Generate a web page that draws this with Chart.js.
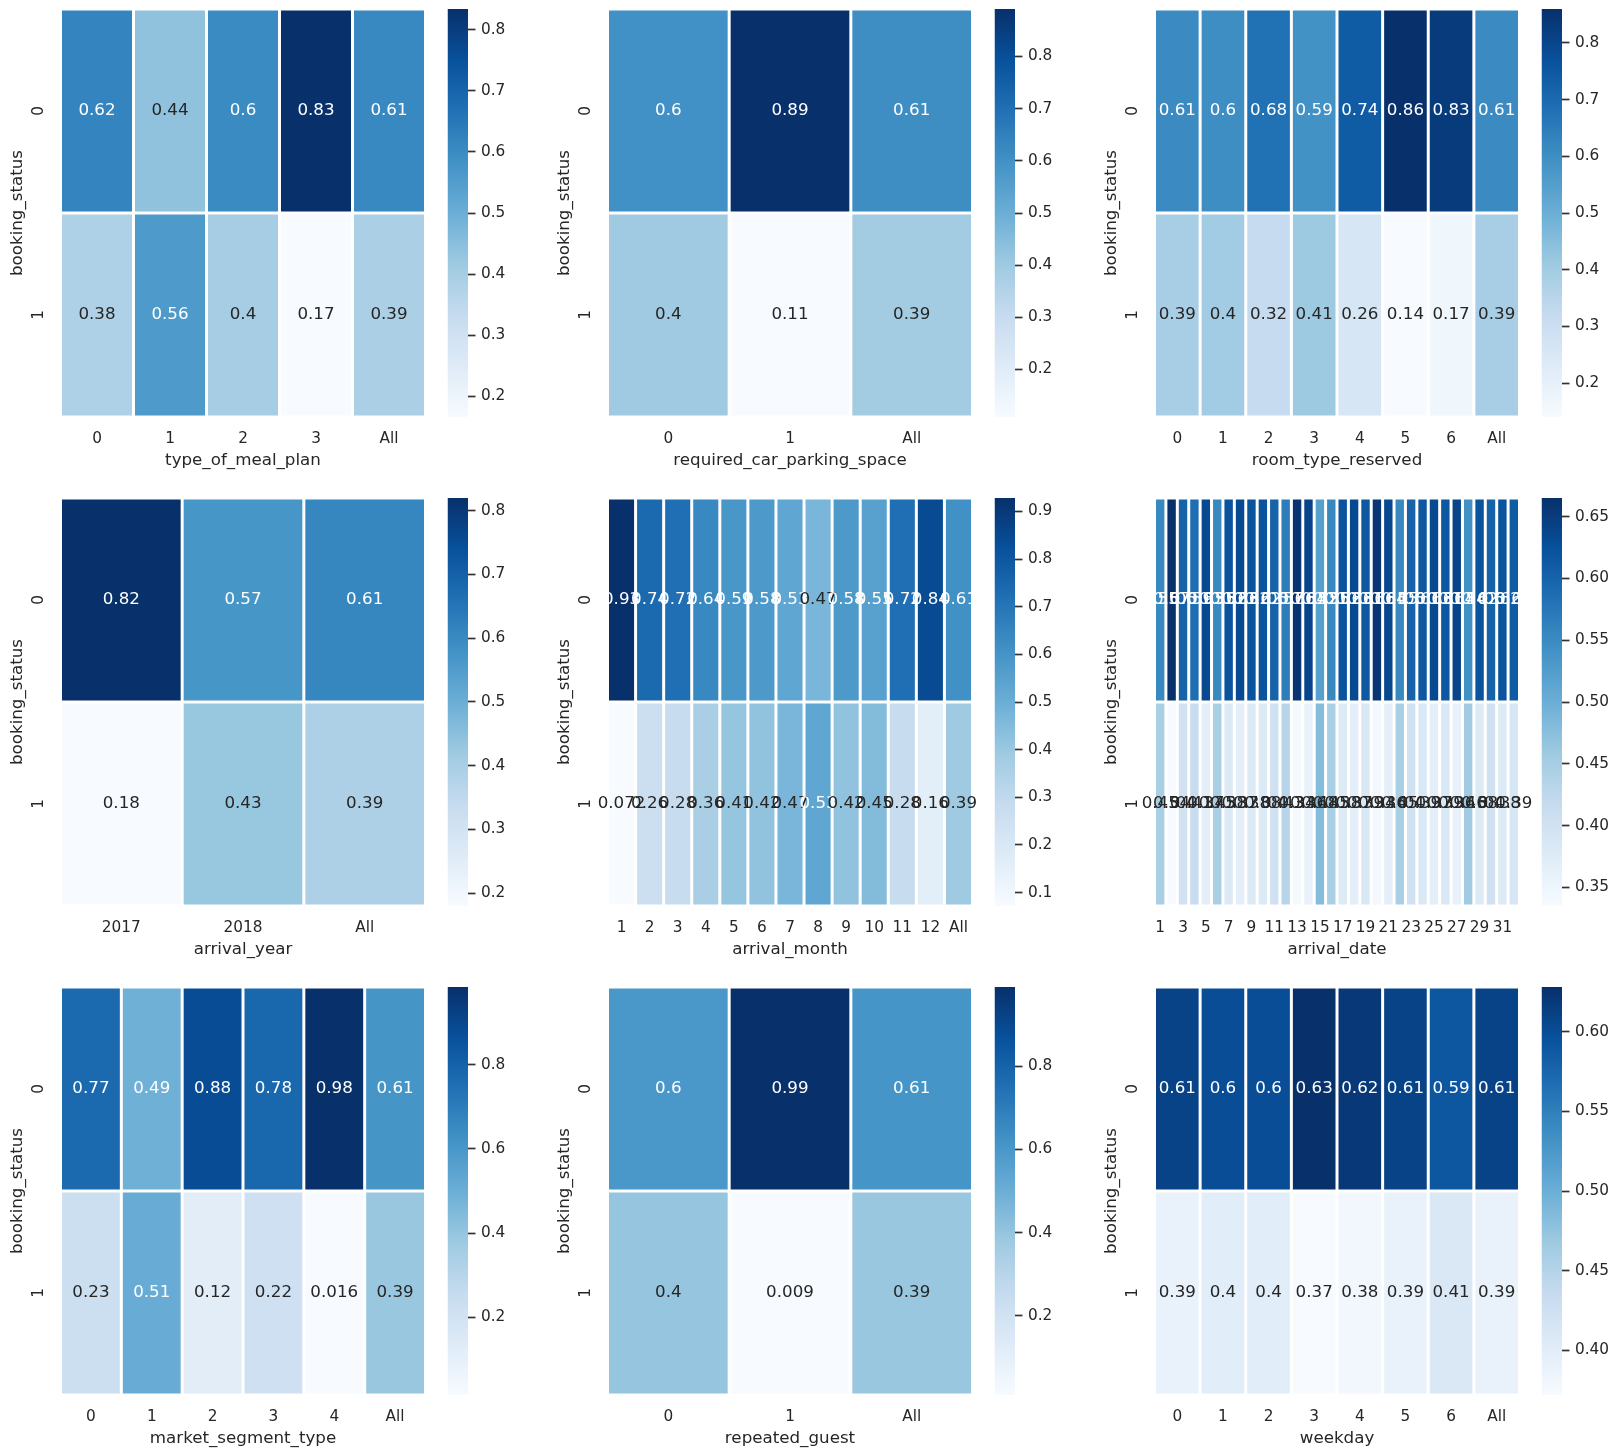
<!DOCTYPE html>
<html><head><meta charset="utf-8">
<script src="https://cdn.jsdelivr.net/npm/chart.js@4/dist/chart.umd.min.js"></script>
<style>
html,body{margin:0;padding:0;background:#fff;overflow:hidden;}
#wrap{position:relative;width:1619px;height:1455px;overflow:hidden;background:#fff;}
canvas{position:absolute;}
</style></head><body><div id="wrap"></div>
<script>
// ---------- data ----------
const rowLabels = ['0', '1'];

const mealCats = ['0', '1', '2', '3', 'All'];
const mealRow0 = [0.62, 0.44, 0.60, 0.834, 0.61];
const mealRow1 = [0.38, 0.56, 0.40, 0.166, 0.39];
const mealCbTicks = [0.2, 0.3, 0.4, 0.5, 0.6, 0.7, 0.8];

const parkCats = ['0', '1', 'All'];
const parkRow0 = [0.60, 0.891, 0.61];
const parkRow1 = [0.40, 0.109, 0.39];
const parkCbTicks = [0.2, 0.3, 0.4, 0.5, 0.6, 0.7, 0.8];

const roomCats = ['0', '1', '2', '3', '4', '5', '6', 'All'];
const roomRow0 = [0.61, 0.60, 0.68, 0.59, 0.74, 0.86, 0.83, 0.61];
const roomRow1 = [0.39, 0.40, 0.32, 0.41, 0.26, 0.14, 0.17, 0.39];
const roomCbTicks = [0.2, 0.3, 0.4, 0.5, 0.6, 0.7, 0.8];

const yearCats = ['2017', '2018', 'All'];
const yearRow0 = [0.82, 0.57, 0.61];
const yearRow1 = [0.18, 0.43, 0.39];
const yearCbTicks = [0.2, 0.3, 0.4, 0.5, 0.6, 0.7, 0.8];

const monthCats = ['1','2','3','4','5','6','7','8','9','10','11','12','All'];
const monthRow0 = [0.928, 0.74, 0.72, 0.64, 0.59, 0.58, 0.53, 0.47, 0.58, 0.55, 0.72, 0.84, 0.61];
const monthRow1 = [0.072, 0.26, 0.28, 0.36, 0.41, 0.42, 0.47, 0.53, 0.42, 0.45, 0.28, 0.16, 0.39];
const monthCbTicks = [0.1, 0.2, 0.3, 0.4, 0.5, 0.6, 0.7, 0.8, 0.9];

const dateCats = ['1','2','3','4','5','6','7','8','9','10','11','12','13','14','15','16',
                  '17','18','19','20','21','22','23','24','25','26','27','28','29','30','31','All'];
const dateRow0 = [0.553, 0.665, 0.600, 0.586, 0.632, 0.553, 0.620, 0.632, 0.620, 0.620, 0.600, 0.567, 0.660, 0.640, 0.520, 0.553,
                  0.620, 0.632, 0.615, 0.657, 0.635, 0.553, 0.600, 0.615, 0.632, 0.615, 0.640, 0.543, 0.620, 0.600, 0.620, 0.610];
const dateRow1 = [0.447, 0.335, 0.400, 0.414, 0.368, 0.447, 0.380, 0.368, 0.380, 0.380, 0.400, 0.433, 0.340, 0.360, 0.480, 0.447,
                  0.380, 0.368, 0.385, 0.343, 0.365, 0.447, 0.400, 0.385, 0.368, 0.385, 0.360, 0.457, 0.380, 0.400, 0.380, 0.390];
const dateCbTicks = [0.35, 0.40, 0.45, 0.50, 0.55, 0.60, 0.65];

const segCats = ['0', '1', '2', '3', '4', 'All'];
const segRow0 = [0.77, 0.49, 0.88, 0.78, 0.984, 0.61];
const segRow1 = [0.23, 0.51, 0.12, 0.22, 0.016, 0.39];
const segCbTicks = [0.2, 0.4, 0.6, 0.8];

const repCats = ['0', '1', 'All'];
const repRow0 = [0.60, 0.991, 0.61];
const repRow1 = [0.40, 0.009, 0.39];
const repCbTicks = [0.2, 0.4, 0.6, 0.8];

const wdCats = ['0', '1', '2', '3', '4', '5', '6', 'All'];
const wdRow0 = [0.61, 0.60, 0.60, 0.628, 0.62, 0.61, 0.59, 0.61];
const wdRow1 = [0.39, 0.40, 0.40, 0.372, 0.38, 0.39, 0.41, 0.39];
const wdCbTicks = [0.40, 0.45, 0.50, 0.55, 0.60];

const panels = [
  {title: 'type_of_meal_plan', cats: mealCats, rows: [mealRow0, mealRow1], cbTicks: mealCbTicks, cbDec: 1, every: 1},
  {title: 'required_car_parking_space', cats: parkCats, rows: [parkRow0, parkRow1], cbTicks: parkCbTicks, cbDec: 1, every: 1},
  {title: 'room_type_reserved', cats: roomCats, rows: [roomRow0, roomRow1], cbTicks: roomCbTicks, cbDec: 1, every: 1},
  {title: 'arrival_year', cats: yearCats, rows: [yearRow0, yearRow1], cbTicks: yearCbTicks, cbDec: 1, every: 1},
  {title: 'arrival_month', cats: monthCats, rows: [monthRow0, monthRow1], cbTicks: monthCbTicks, cbDec: 1, every: 1},
  {title: 'arrival_date', cats: dateCats, rows: [dateRow0, dateRow1], cbTicks: dateCbTicks, cbDec: 2, every: 2},
  {title: 'market_segment_type', cats: segCats, rows: [segRow0, segRow1], cbTicks: segCbTicks, cbDec: 1, every: 1},
  {title: 'repeated_guest', cats: repCats, rows: [repRow0, repRow1], cbTicks: repCbTicks, cbDec: 1, every: 1},
  {title: 'weekday', cats: wdCats, rows: [wdRow0, wdRow1], cbTicks: wdCbTicks, cbDec: 2, every: 1}
];

// ---------- styling ----------
const FONT = '"DejaVu Sans", "Liberation Sans", sans-serif';
const TXT = '#262626';
const TICK_SIZE = 15.3, LABEL_SIZE = 16.7, ANNOT_SIZE = 16.7;
const colX = [0, 547, 1094], rowY = [0, 489, 978];
const HW = 440, HH = 477, AX_L = 60.5, AX_R = 425.5, AX_T = 9, AX_B = 417;
const CBW = 107, CB_L = 7.5, CB_R = 28;

Chart.defaults.font.family = FONT;
Chart.defaults.color = TXT;

const BLUES = ['#f7fbff','#deebf7','#c6dbef','#9ecae1','#6baed6','#4292c6','#2171b5','#08519c','#08306b']
  .map(h => [parseInt(h.slice(1,3),16), parseInt(h.slice(3,5),16), parseInt(h.slice(5,7),16)]);
function blues(t) {
  t = Math.max(0, Math.min(1, t));
  const s = t * 8, i = Math.min(7, Math.floor(s)), f = s - i;
  const a = BLUES[i], b = BLUES[i + 1];
  return a.map((c, k) => c + (b[k] - c) * f);
}
const rgb = c => `rgb(${Math.round(c[0])},${Math.round(c[1])},${Math.round(c[2])})`;
function lum(c) {
  const l = c.map(v => { v /= 255; return v <= 0.03928 ? v / 12.92 : Math.pow((v + 0.055) / 1.055, 2.4); });
  return 0.2126 * l[0] + 0.7152 * l[1] + 0.0722 * l[2];
}
const fmt = v => String(Number(v.toPrecision(2)));
const noPad = s => { s.paddingTop = 0; s.paddingBottom = 0; s.paddingLeft = 0; s.paddingRight = 0; };

const wrap = document.getElementById('wrap');
function mkCanvas(left, top, w, h) {
  const c = document.createElement('canvas');
  c.width = w; c.height = h;
  c.style.left = left + 'px'; c.style.top = top + 'px';
  c.style.width = w + 'px'; c.style.height = h + 'px';
  wrap.appendChild(c);
  return c;
}

panels.forEach((p, idx) => {
  const left = colX[idx % 3], top = rowY[Math.floor(idx / 3)];
  const all = p.rows.flat();
  const vmin = Math.min(...all), vmax = Math.max(...all);
  const cell = v => blues((v - vmin) / (vmax - vmin));

  // heatmap
  const hc = mkCanvas(left, top, HW, HH);
  new Chart(hc, {
    type: 'bar',
    data: {
      labels: p.cats,
      datasets: p.rows.map((row, r) => ({
        label: rowLabels[r],
        data: row.map(() => 1),
        backgroundColor: row.map(v => rgb(cell(v))),
        borderColor: '#ffffff',
        borderWidth: 1.5,
        borderSkipped: false,
        inflateAmount: 0,
        categoryPercentage: 1,
        barPercentage: 1
      }))
    },
    options: {
      responsive: false, animation: false, devicePixelRatio: 1,
      layout: {padding: {left: 0, top: AX_T, right: HW - AX_R, bottom: 0}},
      plugins: {legend: {display: false}, tooltip: {enabled: false}},
      scales: {
        x: {
          stacked: true,
          grid: {display: false}, border: {display: false},
          ticks: {
            autoSkip: false, maxRotation: 0, minRotation: 0, padding: 4.5,
            font: {size: TICK_SIZE}, color: TXT,
            callback: (v, i) => (i % p.every === 0 ? p.cats[i] : '')
          },
          title: {display: true, text: p.title, font: {size: LABEL_SIZE}, color: TXT, padding: {top: 0, bottom: 6}},
          afterFit: s => { s.height = HH - AX_B; noPad(s); }
        },
        y: {
          type: 'linear', stacked: true, min: 0, max: 2, reverse: true,
          grid: {display: false}, border: {display: false},
          afterBuildTicks: s => { s.ticks = rowLabels.map((_, i) => ({value: i + 0.5})); },
          ticks: {
            minRotation: 90, maxRotation: 90, crossAlign: 'center', padding: 8.7,
            font: {size: TICK_SIZE}, color: TXT,
            callback: v => rowLabels[Math.floor(v)]
          },
          title: {display: true, text: 'booking_status', font: {size: LABEL_SIZE}, color: TXT, padding: {top: 8, bottom: 0}},
          afterFit: s => { s.width = AX_L; noPad(s); }
        }
      }
    },
    plugins: [{
      id: 'annot',
      afterDatasetsDraw(chart) {
        const ctx = chart.ctx;
        ctx.save();
        ctx.font = `${ANNOT_SIZE}px ${FONT}`;
        ctx.textAlign = 'center';
        ctx.textBaseline = 'middle';
        p.rows.forEach((row, r) => {
          const meta = chart.getDatasetMeta(r);
          meta.data.forEach((bar, c) => {
            const {x, y, base} = bar.getProps(['x', 'y', 'base'], true);
            const v = row[c];
            ctx.fillStyle = lum(cell(v)) > 0.408 ? TXT : '#ffffff';
            ctx.fillText(fmt(v), x, (y + base) / 2);
          });
        });
        ctx.restore();
      }
    }]
  });

  // colorbar
  const cc = mkCanvas(left + HW, top, CBW, HH);
  new Chart(cc, {
    type: 'bar',
    data: {
      labels: ['cb'],
      datasets: [{
        data: [[vmin, vmax]],
        backgroundColor: c => {
          const a = c.chart.chartArea;
          if (!a) return '#ffffff';
          const g = c.chart.ctx.createLinearGradient(0, a.bottom, 0, a.top);
          BLUES.forEach((col, i) => g.addColorStop(i / 8, rgb(col)));
          return g;
        },
        borderWidth: 0, inflateAmount: 0,
        categoryPercentage: 1, barPercentage: 1
      }]
    },
    options: {
      responsive: false, animation: false, devicePixelRatio: 1,
      layout: {padding: {left: CB_L, top: AX_T, right: 0, bottom: HH - AX_B}},
      plugins: {legend: {display: false}, tooltip: {enabled: false}},
      scales: {
        x: {display: false},
        y: {
          position: 'right', min: vmin, max: vmax,
          grid: {drawOnChartArea: false, drawTicks: true, tickLength: 7.5, tickWidth: 1.7, tickColor: '#333333'},
          border: {display: false},
          afterBuildTicks: s => { s.ticks = p.cbTicks.map(v => ({value: v})); },
          ticks: {padding: 5.5, font: {size: TICK_SIZE}, color: TXT, callback: v => v.toFixed(p.cbDec)},
          afterFit: s => { s.width = CBW - CB_R; noPad(s); }
        }
      }
    }
  });
});
</script>
</body></html>
